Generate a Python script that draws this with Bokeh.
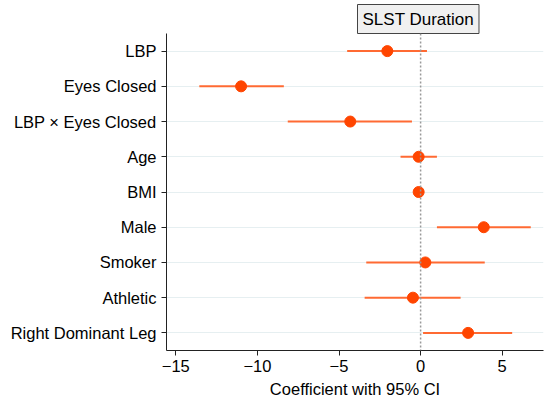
from bokeh.plotting import figure
from bokeh.models import Range1d, FactorRange, Span, Title, FixedTicker, ColumnDataSource
from bokeh.embed import file_html
from bokeh.resources import INLINE

labels = ["LBP", "Eyes Closed", "LBP × Eyes Closed", "Age", "BMI", "Male",
          "Smoker", "Athletic", "Right Dominant Leg"]
coef = [-2.04, -11.0, -4.31, -0.12, -0.12, 3.87, 0.29, -0.47, 2.91]
ci_low = [-4.5, -13.56, -8.14, -1.23, -0.25, 1.0, -3.33, -3.43, 0.15]
ci_high = [0.39, -8.38, -0.53, 1.0, 0.02, 6.75, 3.93, 2.45, 5.61]
x_ticks = [-15, -10, -5, 0, 5]
x_tick_labels = ["−15", "−10", "−5", "0", "5"]
title_text = "SLST Duration"
x_title = "Coefficient with 95% CI"

FONT = "Liberation Sans"

src = ColumnDataSource(dict(label=labels, coef=coef, lo=ci_low, hi=ci_high))

p = figure(width=548, height=404, output_backend="svg", toolbar_location=None,
           y_range=FactorRange(factors=list(reversed(labels))),
           x_range=Range1d(-15.57, 7.53),
           min_border_left=166, min_border_right=5, min_border_top=33, min_border_bottom=54)
p.outline_line_color = None
p.background_fill_color = "white"
p.border_fill_color = "white"

p.xgrid.grid_line_color = None
p.ygrid.grid_line_color = "#e6eff1"
p.ygrid.grid_line_width = 1

p.add_layout(Span(location=0, dimension="height", line_color="#999999",
                  line_width=1.5, line_dash="2 2"))

p.segment(x0="lo", y0="label", x1="hi", y1="label", source=src,
          line_color="#ff6a33", line_width=2)
p.scatter(x="coef", y="label", source=src, size=11, fill_color="#ff4500",
          line_color="#ff4500")

for ax in (p.xaxis[0], p.yaxis[0]):
    ax.axis_line_color = "#222222"
    ax.major_tick_line_color = "#222222"
    ax.major_tick_out = 5
    ax.major_tick_in = 0
    ax.minor_tick_line_color = None
    ax.major_label_text_font = FONT
    ax.major_label_text_font_size = "16.5px"
    ax.major_label_text_color = "black"

p.yaxis.major_label_standoff = 5
p.xaxis.major_label_standoff = 4
p.xaxis.ticker = FixedTicker(ticks=x_ticks)
p.xaxis.major_label_overrides = {t: s for t, s in zip(x_ticks, x_tick_labels)}
p.xaxis.axis_label = x_title
p.xaxis.axis_label_text_font = FONT
p.xaxis.axis_label_text_font_size = "16.5px"
p.xaxis.axis_label_text_font_style = "normal"
p.xaxis.axis_label_text_color = "black"
p.xaxis.axis_label_standoff = 5

p.add_layout(Title(text=title_text, align="left", offset=191,
                   text_font=FONT, text_font_size="17px", text_font_style="normal",
                   text_color="black", background_fill_color="#f0f0f0",
                   border_line_color="#444444", border_line_width=1,
                   padding=dict(left=5, right=5, top=5, bottom=5), standoff=0), "above")

open("out.html", "w").write(file_html(p, INLINE))
